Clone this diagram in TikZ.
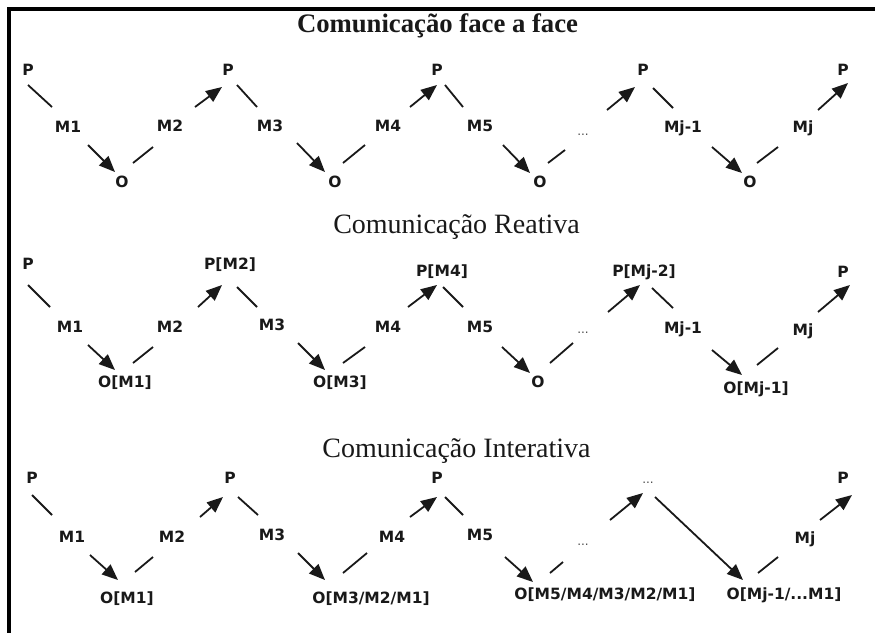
\documentclass[tikz,border=0pt]{standalone}
\usepackage{fontspec}
\setmainfont{Liberation Serif}
\newfontfamily\labfont{DejaVu Sans}
\usetikzlibrary{arrows.meta}
\newcommand\mylink[5][ln]{\draw[#1] ([shift={(#3)}]#2.center) -- ([shift={(#5)}]#4.center);}
\tikzset{
  lbl/.style={font=\labfont\bfseries\fontsize{15.5}{17}\selectfont, inner sep=0pt, text height=11.3pt, text depth=0pt, text=black!90},
  dts/.style={font=\labfont\fontsize{12}{13}\selectfont, inner sep=0pt, text height=1.6pt, text depth=0pt, text=black!70},
  ln/.style={line width=1.8pt, draw=black!90},
  arr/.style={ln, -{Triangle[length=16pt,width=13pt]}},
  ttl/.style={anchor=base, inner sep=0pt, text=black!90}
}
\begin{document}
\begin{tikzpicture}[x=1pt,y=-1pt]
\useasboundingbox (0,0) rectangle (875,633);
\fill[white] (0,0) rectangle (875,633);
\fill[black] (7,7) rectangle (875,11);
\fill[black] (7,7) rectangle (11,633);

% titles
\node[ttl, font=\bfseries\fontsize{26.7}{30}\selectfont] (t1) at (437.5,32) {Comunicação face a face};
\node[ttl, font=\fontsize{28}{32}\selectfont] (t2) at (456.5,233) {Comunicação Reativa};
\node[ttl, font=\fontsize{28}{32}\selectfont] (t3) at (456.5,457) {Comunicação Interativa};

% row 1
\node[lbl] (p11) at (28,70) {P};
\node[lbl] (m11) at (68,127) {M1};
\node[lbl] (o11) at (122,182) {O};
\node[lbl] (m12) at (170,126) {M2};
\node[lbl] (p12) at (228,70) {P};
\node[lbl] (m13) at (270,126) {M3};
\node[lbl] (o12) at (335,182) {O};
\node[lbl] (m14) at (388,126) {M4};
\node[lbl] (p13) at (437,70) {P};
\node[lbl] (m15) at (480,126) {M5};
\node[lbl] (o13) at (540,182) {O};
\node[dts] (d11) at (583,135) {...};
\node[lbl] (p14) at (643,70) {P};
\node[lbl] (m16) at (683,127) {Mj-1};
\node[lbl] (o14) at (750,182) {O};
\node[lbl] (m17) at (803,127) {Mj};
\node[lbl] (p15) at (843,70) {P};

\mylink{p11}{0,15}{m11}{-16,-20}
\mylink[arr]{m11}{20,18}{o11}{-7,-10}
\mylink{o11}{11,-19}{m12}{-17,21}
\mylink[arr]{m12}{25,-19}{p12}{-6,17}
\mylink{p12}{9,15}{m13}{-13,-19}
\mylink[arr]{m13}{27,17}{o12}{-10,-10}
\mylink{o12}{8,-19}{m14}{-23,19}
\mylink[arr]{m14}{22,-19}{p13}{0,15}
\mylink{p13}{8,15}{m15}{-17,-19}
\mylink[arr]{m15}{23,19}{o13}{-10,-9}
\mylink{o13}{8,-19}{d11}{-18,15}
\mylink[arr]{d11}{24,-25}{p14}{-8,17}
\mylink{p14}{10,18}{m16}{-10,-19}
\mylink[arr]{m16}{29,20}{o14}{-8,-9}
\mylink{o14}{7,-19}{m17}{-25,20}
\mylink[arr]{m17}{15,-17}{p15}{5,13}

% row 2
\node[lbl] (p21) at (28,264) {P};
\node[lbl] (m21) at (70,327) {M1};
\node[lbl] (o21) at (125,382) {O[M1]};
\node[lbl] (m22) at (170,327) {M2};
\node[lbl] (p22) at (230,264) {P[M2]};
\node[lbl] (m23) at (272,325) {M3};
\node[lbl] (o22) at (340,382) {O[M3]};
\node[lbl] (m24) at (388,327) {M4};
\node[lbl] (p23) at (442,271) {P[M4]};
\node[lbl] (m25) at (480,327) {M5};
\node[lbl] (o23) at (538,382) {O};
\node[dts] (d21) at (583,333) {...};
\node[lbl] (p24) at (644,271) {P[Mj-2]};
\node[lbl] (m26) at (683,328) {Mj-1};
\node[lbl] (o24) at (756,388) {O[Mj-1]};
\node[lbl] (m27) at (803,330) {Mj};
\node[lbl] (p25) at (843,272) {P};

\mylink{p21}{0,21}{m21}{-20,-20}
\mylink[arr]{m21}{18,18}{o21}{-10,-12}
\mylink{o21}{8,-19}{m22}{-17,20}
\mylink[arr]{m22}{28,-20}{p22}{-8,21}
\mylink{p22}{7,23}{m23}{-15,-18}
\mylink[arr]{m23}{26,18}{o22}{-15,-12}
\mylink{o22}{3,-19}{m24}{-23,20}
\mylink[arr]{m24}{20,-20}{p23}{-5,14}
\mylink{p23}{1,16}{m25}{-17,-20}
\mylink[arr]{m25}{22,20}{o23}{-8,-9}
\mylink{o23}{12,-19}{d21}{-10,10}
\mylink[arr]{d21}{25,-21}{p24}{-4,14}
\mylink{p24}{8,17}{m26}{-10,-20}
\mylink[arr]{m26}{29,22}{o24}{-14,-13}
\mylink{o24}{1,-23}{m27}{-25,18}
\mylink[arr]{m27}{15,-18}{p25}{7,13}

% row 3
\node[lbl] (p31) at (32,478) {P};
\node[lbl] (m31) at (72,537) {M1};
\node[lbl] (o31) at (127,598) {O[M1]};
\node[lbl] (m32) at (172,537) {M2};
\node[lbl] (p32) at (230,478) {P};
\node[lbl] (m33) at (272,535) {M3};
\node[lbl] (o32) at (371,598) {O[M3/M2/M1]};
\node[lbl] (m34) at (392,537) {M4};
\node[lbl] (p33) at (437,478) {P};
\node[lbl] (m35) at (480,535) {M5};
\node[lbl] (o33) at (605,594) {O[M5/M4/M3/M2/M1]};
\node[dts] (d31) at (583,545) {...};
\node[dts] (d32) at (648,483) {...};
\node[lbl] (o34) at (784,594) {O[Mj-1/...M1]};
\node[lbl] (m36) at (805,538) {Mj};
\node[lbl] (p34) at (843,478) {P};

\mylink{p31}{0,17}{m31}{-20,-22}
\mylink[arr]{m31}{18,18}{o31}{-9,-18}
\mylink{o31}{8,-26}{m32}{-19,20}
\mylink[arr]{m32}{28,-20}{p32}{-7,19}
\mylink{p32}{8,19}{m33}{-14,-20}
\mylink[arr]{m33}{26,18}{o32}{-46,-18}
\mylink{o32}{-28,-25}{m34}{-25,16}
\mylink[arr]{m34}{18,-20}{p33}{0,19}
\mylink{p33}{8,19}{m35}{-17,-20}
\mylink[arr]{m35}{25,22}{o33}{-72,-12}
\mylink{o33}{-55,-21}{d31}{-20,17}
\mylink[arr]{d31}{27,-25}{d32}{-5,10}
\mylink[arr]{d32}{7,14}{o34}{-41,-14}
\mylink{o34}{-26,-21}{m36}{-27,19}
\mylink[arr]{m36}{15,-18}{p34}{9,17}
\end{tikzpicture}
\end{document}
